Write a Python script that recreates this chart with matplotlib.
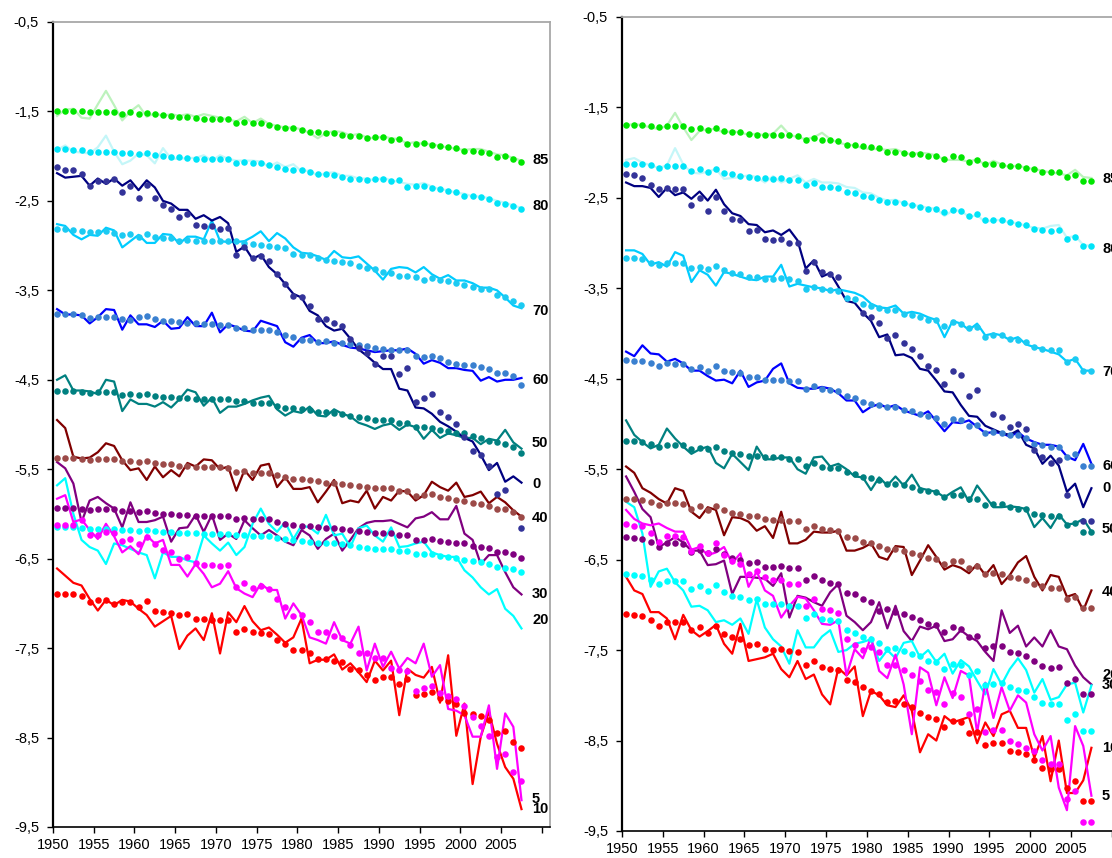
import numpy as np
import matplotlib
matplotlib.use("Agg")
import matplotlib.pyplot as plt
from matplotlib.ticker import FuncFormatter

nan = np.nan
years = list(range(1950, 2008))
ages = ["0", "5", "10", "20", "30", "40", "50", "60", "70", "80", "85"]

# ---------------- left panel ----------------
left_line_85 = [-1.55, -1.48, -1.47, -1.57, -1.58, -1.42, -1.27, -1.43, -1.60, -1.50,
                -1.43, -1.56, -1.52, -1.55, -1.53, -1.55, -1.53, -1.56, -1.53, -1.55,
                -1.57, -1.59, -1.61, -1.56, -1.63, -1.58, -1.64, -1.66, -1.68, -1.68,
                -1.70, -1.74, -1.80, -1.74, -1.72, -1.73, -1.77, -1.75, -1.79, -1.80,
                -1.78, -1.80, -1.81, -1.86, -1.84, -1.87, -1.86, -1.89, -1.90, -1.92,
                -1.93, -1.92, -1.92, -1.95, -1.98, -1.99, -2.02, -2.05]
left_dots_85 = [-1.49, -1.49, -1.49, -1.50, -1.51, -1.51, -1.51, -1.51, -1.53, -1.51,
                -1.53, -1.52, -1.53, -1.54, -1.55, -1.56, -1.56, -1.57, -1.58, -1.58,
                -1.58, -1.58, -1.63, -1.62, -1.63, -1.63, -1.65, -1.67, -1.69, -1.69,
                -1.71, -1.73, -1.73, -1.74, -1.74, -1.76, -1.78, -1.78, -1.80, -1.79,
                -1.79, -1.82, -1.81, -1.86, -1.86, -1.85, -1.88, -1.89, -1.90, -1.91,
                -1.94, -1.94, -1.95, -1.97, -2.01, -2.00, -2.03, -2.07]
left_line_80 = [-1.93, -1.88, -1.95, -1.96, -1.97, -1.90, -1.77, -1.95, -2.09, -2.05,
                -1.97, -1.99, -2.08, -1.91, -2.03, -2.03, -2.02, -2.02, -1.99, -2.05,
                -1.99, -2.03, -2.05, -2.05, -2.05, -2.06, -2.12, -2.07, -2.12, -2.09,
                -2.17, -2.16, -2.22, -2.19, -2.18, -2.22, -2.22, -2.25, -2.25, -2.27,
                -2.24, -2.27, -2.29, -2.31, -2.32, -2.30, -2.34, -2.37, -2.38, -2.41,
                -2.42, -2.45, -2.45, -2.47, -2.50, -2.52, -2.55, -2.58]
left_dots_80 = [-1.92, -1.92, -1.93, -1.93, -1.95, -1.95, -1.95, -1.95, -1.97, -1.96,
                -1.98, -1.96, -1.99, -2.00, -2.01, -2.01, -2.02, -2.03, -2.03, -2.03,
                -2.03, -2.03, -2.08, -2.07, -2.08, -2.08, -2.10, -2.12, -2.14, -2.15,
                -2.16, -2.18, -2.20, -2.20, -2.21, -2.23, -2.25, -2.25, -2.27, -2.26,
                -2.26, -2.28, -2.27, -2.34, -2.33, -2.33, -2.36, -2.37, -2.39, -2.40,
                -2.44, -2.45, -2.46, -2.48, -2.52, -2.53, -2.56, -2.59]
left_line_70 = [-2.76, -2.78, -2.88, -2.93, -2.88, -2.89, -2.80, -2.83, -3.02, -2.95,
                -2.88, -2.97, -2.97, -2.87, -2.88, -2.98, -2.90, -2.90, -2.93, -2.72,
                -2.95, -2.96, -2.96, -2.95, -2.90, -2.84, -2.95, -2.86, -2.92, -3.02,
                -3.08, -3.09, -3.12, -3.16, -3.06, -3.13, -3.14, -3.12, -3.20, -3.28,
                -3.38, -3.26, -3.24, -3.25, -3.30, -3.24, -3.32, -3.37, -3.33, -3.39,
                -3.39, -3.42, -3.47, -3.47, -3.50, -3.58, -3.67, -3.70]
left_dots_70 = [-2.81, -2.81, -2.83, -2.84, -2.85, -2.85, -2.84, -2.86, -2.88, -2.87,
                -2.90, -2.87, -2.90, -2.91, -2.91, -2.95, -2.94, -2.95, -2.95, -2.95,
                -2.95, -2.95, -2.95, -2.97, -2.98, -2.99, -3.00, -3.01, -3.03, -3.09,
                -3.10, -3.11, -3.14, -3.16, -3.17, -3.18, -3.20, -3.23, -3.25, -3.26,
                -3.29, -3.31, -3.34, -3.34, -3.35, -3.38, -3.36, -3.38, -3.40, -3.42,
                -3.44, -3.46, -3.48, -3.49, -3.55, -3.58, -3.62, -3.66]
left_line_60 = [-3.71, -3.77, -3.77, -3.78, -3.87, -3.80, -3.71, -3.72, -3.94, -3.78,
                -3.88, -3.88, -3.91, -3.84, -3.93, -3.92, -3.80, -3.90, -3.90, -3.75,
                -3.97, -3.88, -3.91, -3.95, -3.96, -3.84, -3.87, -3.90, -4.08, -4.13,
                -4.03, -4.00, -4.09, -4.09, -4.07, -4.11, -4.14, -4.15, -4.17, -4.19,
                -4.18, -4.17, -4.17, -4.15, -4.21, -4.32, -4.28, -4.31, -4.37, -4.37,
                -4.39, -4.40, -4.51, -4.47, -4.52, -4.50, -4.50, -4.48]
left_dots_60 = [-3.76, -3.77, -3.77, -3.78, -3.81, -3.80, -3.80, -3.80, -3.82, -3.83,
                -3.80, -3.79, -3.82, -3.84, -3.84, -3.85, -3.86, -3.87, -3.88, -3.88,
                -3.89, -3.89, -3.92, -3.92, -3.94, -3.94, -3.94, -3.97, -4.00, -4.02,
                -4.06, -4.06, -4.08, -4.07, -4.09, -4.09, -4.10, -4.11, -4.12, -4.14,
                -4.16, -4.17, -4.17, -4.17, -4.23, -4.24, -4.23, -4.26, -4.30, -4.32,
                -4.33, -4.33, -4.36, -4.38, -4.42, -4.42, -4.46, -4.56]
left_line_50 = [-4.50, -4.45, -4.62, -4.62, -4.63, -4.66, -4.50, -4.52, -4.85, -4.72,
                -4.77, -4.77, -4.80, -4.75, -4.81, -4.72, -4.61, -4.64, -4.79, -4.70,
                -4.87, -4.80, -4.80, -4.77, -4.73, -4.70, -4.68, -4.83, -4.90, -4.85,
                -4.87, -4.80, -4.90, -4.91, -4.83, -4.88, -4.91, -4.98, -5.01, -5.05,
                -5.01, -4.99, -5.06, -5.00, -5.03, -5.16, -5.06, -5.15, -5.10, -5.12,
                -5.15, -5.15, -5.22, -5.16, -5.18, -5.06, -5.20, -5.27]
left_dots_50 = [-4.62, -4.63, -4.63, -4.64, -4.65, -4.64, -4.64, -4.64, -4.67, -4.66,
                -4.67, -4.66, -4.68, -4.69, -4.69, -4.70, -4.70, -4.71, -4.71, -4.71,
                -4.71, -4.71, -4.74, -4.74, -4.76, -4.76, -4.76, -4.79, -4.81, -4.82,
                -4.83, -4.84, -4.86, -4.86, -4.87, -4.88, -4.91, -4.92, -4.93, -4.95,
                -4.95, -4.95, -4.98, -4.98, -5.03, -5.03, -5.04, -5.06, -5.07, -5.09,
                -5.10, -5.13, -5.15, -5.18, -5.20, -5.22, -5.25, -5.32]
left_line_40 = [-4.95, -5.04, -5.36, -5.38, -5.37, -5.31, -5.21, -5.24, -5.40, -5.51,
                -5.49, -5.62, -5.47, -5.59, -5.51, -5.58, -5.43, -5.47, -5.39, -5.40,
                -5.50, -5.47, -5.74, -5.51, -5.62, -5.46, -5.44, -5.70, -5.59, -5.72,
                -5.72, -5.70, -5.87, -5.75, -5.62, -5.88, -5.85, -5.87, -5.74, -5.94,
                -5.81, -5.85, -5.74, -5.75, -5.85, -5.79, -5.64, -5.70, -5.74, -5.65,
                -5.81, -5.79, -5.75, -5.88, -5.81, -5.87, -5.96, -6.03]
left_dots_40 = [-5.38, -5.38, -5.38, -5.39, -5.40, -5.39, -5.39, -5.39, -5.41, -5.41,
                -5.42, -5.41, -5.43, -5.44, -5.44, -5.46, -5.46, -5.47, -5.48, -5.48,
                -5.48, -5.49, -5.53, -5.52, -5.54, -5.54, -5.54, -5.57, -5.59, -5.61,
                -5.61, -5.62, -5.63, -5.65, -5.65, -5.66, -5.68, -5.69, -5.70, -5.71,
                -5.71, -5.71, -5.74, -5.74, -5.80, -5.79, -5.78, -5.81, -5.82, -5.84,
                -5.86, -5.88, -5.89, -5.91, -5.95, -5.95, -5.98, -6.03]
left_line_30 = [-5.42, -5.49, -5.66, -6.09, -5.85, -5.81, -5.88, -5.94, -6.15, -5.87,
                -6.09, -6.09, -6.07, -6.03, -6.31, -6.16, -6.15, -6.01, -6.20, -6.01,
                -6.29, -6.22, -6.28, -6.07, -6.16, -6.24, -6.18, -6.24, -6.31, -6.35,
                -6.18, -6.24, -6.39, -6.28, -6.22, -6.41, -6.29, -6.16, -6.10, -6.08,
                -6.08, -6.07, -6.11, -6.15, -6.05, -6.03, -5.98, -6.06, -6.06, -5.91,
                -6.22, -6.29, -6.56, -6.46, -6.46, -6.65, -6.82, -6.90]
left_dots_30 = [-5.93, -5.93, -5.93, -5.94, -5.96, -5.95, -5.95, -5.95, -5.97, -5.97,
                -5.98, -5.97, -5.99, -6.00, -6.00, -6.01, -6.01, -6.02, -6.02, -6.02,
                -6.02, -6.02, -6.06, -6.05, -6.06, -6.06, -6.06, -6.09, -6.11, -6.12,
                -6.13, -6.14, -6.15, -6.16, -6.16, -6.17, -6.18, -6.19, -6.20, -6.21,
                -6.21, -6.21, -6.23, -6.23, -6.29, -6.29, -6.28, -6.30, -6.31, -6.32,
                -6.33, -6.36, -6.37, -6.38, -6.42, -6.42, -6.45, -6.49]
left_line_20 = [-5.68, -5.60, -6.00, -6.29, -6.37, -6.41, -6.56, -6.33, -6.35, -6.39,
                -6.43, -6.46, -6.72, -6.43, -6.48, -6.48, -6.52, -6.54, -6.24, -6.33,
                -6.41, -6.32, -6.46, -6.37, -6.11, -5.94, -6.11, -6.20, -6.09, -6.28,
                -6.13, -6.15, -6.22, -6.01, -6.24, -6.22, -6.37, -6.16, -6.13, -6.24,
                -6.31, -6.15, -6.37, -6.36, -6.33, -6.31, -6.43, -6.46, -6.48, -6.48,
                -6.63, -6.71, -6.82, -6.90, -6.84, -7.06, -7.14, -7.28]
left_dots_20 = [-6.15, -6.15, -6.15, -6.16, -6.17, -6.17, -6.17, -6.17, -6.18, -6.18,
                -6.19, -6.18, -6.19, -6.20, -6.20, -6.21, -6.21, -6.21, -6.22, -6.22,
                -6.22, -6.22, -6.24, -6.24, -6.25, -6.25, -6.25, -6.27, -6.28, -6.29,
                -6.30, -6.31, -6.32, -6.33, -6.33, -6.34, -6.35, -6.37, -6.38, -6.39,
                -6.39, -6.39, -6.41, -6.41, -6.45, -6.45, -6.45, -6.47, -6.48, -6.49,
                -6.51, -6.53, -6.54, -6.56, -6.59, -6.60, -6.62, -6.65]
left_line_5 = [-5.83, -5.79, -6.09, -6.06, -6.18, -6.28, -6.11, -6.25, -6.43, -6.36,
               -6.45, -6.24, -6.33, -6.29, -6.57, -6.57, -6.70, -6.56, -6.67, -6.82,
               -6.78, -6.64, -6.83, -6.89, -6.93, -6.78, -6.85, -6.85, -7.17, -7.00,
               -7.13, -7.38, -7.41, -7.45, -7.21, -7.41, -7.45, -7.26, -7.75, -7.45,
               -7.71, -7.54, -7.73, -7.61, -7.67, -7.45, -7.82, -7.69, -8.18, -8.20,
               -8.25, -8.49, -8.49, -8.14, -8.85, -8.23, -8.38, -9.20]
left_dots_5 = [-6.12, -6.12, -6.12, -6.07, -6.24, -6.24, -6.20, -6.21, -6.30, -6.28,
               -6.34, -6.26, -6.34, -6.40, -6.43, -6.50, -6.48, -6.55, -6.57, -6.57,
               -6.58, -6.57, -6.82, -6.77, -6.83, -6.81, -6.84, -6.95, -7.04, -7.14,
               -7.13, -7.21, -7.32, -7.32, -7.37, -7.39, -7.47, -7.56, -7.56, -7.61,
               -7.61, -7.72, -7.75, -7.76, -7.98, -7.95, -7.92, -8.00, -8.04, -8.07,
               -8.15, -8.27, -8.37, -8.48, -8.72, -8.68, -8.89, -8.99]
left_line_10 = [-6.61, -6.69, -6.77, -6.80, -6.95, -7.08, -6.96, -7.02, -6.96, -6.98,
                -7.06, -7.13, -7.26, -7.20, -7.14, -7.51, -7.36, -7.28, -7.41, -7.11,
                -7.56, -7.10, -7.21, -7.03, -7.20, -7.30, -7.27, -7.35, -7.44, -7.38,
                -7.17, -7.67, -7.63, -7.63, -7.57, -7.74, -7.67, -7.77, -7.88, -7.64,
                -7.75, -7.64, -8.25, -7.73, -7.80, -7.83, -7.71, -8.11, -7.58, -8.48,
                -8.12, -9.02, -8.49, -8.21, -8.57, -8.83, -8.96, -9.30]
left_dots_10 = [-6.90, -6.90, -6.90, -6.92, -6.98, -6.96, -6.96, -7.01, -6.98, -6.98,
                -7.04, -6.97, -7.08, -7.10, -7.11, -7.13, -7.12, -7.17, -7.17, -7.19,
                -7.19, -7.19, -7.32, -7.29, -7.32, -7.33, -7.34, -7.41, -7.45, -7.52,
                -7.52, -7.56, -7.62, -7.62, -7.64, -7.66, -7.73, -7.75, -7.80, -7.86,
                -7.82, -7.82, -7.90, -7.85, -8.02, -8.01, -7.99, -8.06, -8.09, -8.12,
                -8.22, -8.24, -8.26, -8.30, -8.45, -8.43, -8.55, -8.62]
left_line_0 = [-2.19, -2.24, -2.23, -2.22, -2.33, -2.25, -2.31, -2.25, -2.33, -2.27,
               -2.38, -2.27, -2.35, -2.50, -2.53, -2.60, -2.60, -2.70, -2.66, -2.72,
               -2.68, -2.75, -3.07, -3.01, -3.15, -3.10, -3.24, -3.32, -3.43, -3.54,
               -3.58, -3.73, -3.78, -3.90, -3.95, -3.93, -4.04, -4.16, -4.23, -4.31,
               -4.38, -4.38, -4.60, -4.62, -4.81, -4.82, -4.88, -4.97, -5.02, -5.08,
               -5.15, -5.19, -5.34, -5.51, -5.43, -5.64, -5.58, -5.65]
left_dots_0 = [-2.12, -2.15, -2.15, -2.20, -2.33, -2.28, -2.28, -2.26, -2.40, -2.33,
               -2.47, -2.32, -2.47, -2.55, -2.59, -2.68, -2.65, -2.77, -2.78, -2.78,
               -2.81, -2.80, -3.11, -3.01, -3.14, -3.12, -3.17, -3.32, -3.43, -3.56,
               -3.57, -3.67, -3.82, -3.82, -3.86, -3.90, -4.04, -4.14, -4.20, -4.32,
               -4.23, -4.23, -4.44, -4.37, -4.75, -4.70, -4.66, -4.86, -4.92, -4.99,
               -5.14, -5.30, -5.34, -5.46, -5.78, -5.73, nan, -6.16]

# ---------------- right panel ----------------
right_line_85 = [-1.70, -1.68, -1.70, -1.72, -1.74, -1.70, -1.56, -1.72, -1.86, -1.76,
                 -1.74, -1.74, -1.78, -1.76, -1.78, -1.80, -1.79, -1.81, -1.79, -1.70,
                 -1.80, -1.83, -1.85, -1.83, -1.78, -1.85, -1.89, -1.91, -1.92, -1.95,
                 -1.96, -1.96, -1.97, -1.96, -2.00, -2.02, -2.00, -2.01, -2.03, -2.08,
                 -2.08, -2.08, -2.10, -2.07, -2.14, -2.09, -2.13, -2.16, -2.14, -2.17,
                 -2.18, -2.20, -2.22, -2.23, -2.25, -2.19, -2.27, -2.28]
right_dots_85 = [-1.69, -1.69, -1.69, -1.70, -1.72, -1.71, -1.71, -1.71, -1.74, -1.73,
                 -1.75, -1.73, -1.76, -1.77, -1.77, -1.79, -1.80, -1.80, -1.80, -1.81,
                 -1.81, -1.82, -1.86, -1.84, -1.86, -1.86, -1.87, -1.91, -1.91, -1.93,
                 -1.94, -1.95, -1.99, -1.99, -2.00, -2.01, -2.02, -2.04, -2.04, -2.07,
                 -2.04, -2.05, -2.10, -2.08, -2.12, -2.12, -2.14, -2.15, -2.15, -2.17,
                 -2.18, -2.21, -2.21, -2.21, -2.27, -2.25, -2.31, -2.31]
right_line_80 = [-2.08, -2.06, -2.11, -2.14, -2.17, -2.14, -1.95, -2.13, -2.22, -2.23,
                 -2.21, -2.18, -2.29, -2.28, -2.27, -2.25, -2.27, -2.33, -2.26, -2.33,
                 -2.29, -2.25, -2.33, -2.29, -2.33, -2.33, -2.34, -2.38, -2.39, -2.44,
                 -2.45, -2.50, -2.53, -2.52, -2.56, -2.58, -2.59, -2.61, -2.62, -2.70,
                 -2.64, -2.64, -2.71, -2.69, -2.77, -2.74, -2.75, -2.77, -2.78, -2.81,
                 -2.83, -2.84, -2.81, -2.80, -2.94, -2.92, -3.02, -3.03]
right_dots_80 = [-2.12, -2.12, -2.13, -2.14, -2.17, -2.15, -2.15, -2.15, -2.20, -2.18,
                 -2.21, -2.18, -2.22, -2.24, -2.26, -2.27, -2.28, -2.28, -2.29, -2.28,
                 -2.30, -2.30, -2.36, -2.34, -2.38, -2.38, -2.39, -2.43, -2.45, -2.48,
                 -2.49, -2.52, -2.54, -2.54, -2.56, -2.58, -2.60, -2.62, -2.62, -2.66,
                 -2.63, -2.64, -2.70, -2.68, -2.75, -2.75, -2.75, -2.77, -2.79, -2.80,
                 -2.84, -2.86, -2.87, -2.86, -2.96, -2.93, -3.03, -3.03]
right_line_70 = [-3.08, -3.08, -3.12, -3.24, -3.21, -3.26, -3.10, -3.14, -3.43, -3.30,
                 -3.35, -3.47, -3.32, -3.34, -3.37, -3.40, -3.41, -3.37, -3.37, -3.24,
                 -3.48, -3.45, -3.47, -3.49, -3.50, -3.53, -3.51, -3.53, -3.55, -3.59,
                 -3.67, -3.71, -3.72, -3.69, -3.78, -3.76, -3.78, -3.82, -3.85, -4.04,
                 -3.86, -3.89, -3.96, -3.89, -4.02, -4.00, -4.02, -4.07, -4.04, -4.12,
                 -4.15, -4.17, -4.20, -4.23, -4.31, -4.28, -4.41, -4.41]
right_dots_70 = [-3.16, -3.16, -3.18, -3.22, -3.24, -3.22, -3.22, -3.22, -3.28, -3.26,
                 -3.29, -3.25, -3.30, -3.33, -3.34, -3.37, -3.37, -3.40, -3.40, -3.39,
                 -3.40, -3.42, -3.51, -3.48, -3.51, -3.52, -3.53, -3.61, -3.62, -3.67,
                 -3.69, -3.72, -3.74, -3.74, -3.78, -3.80, -3.82, -3.85, -3.85, -3.92,
                 -3.87, -3.89, -3.94, -3.93, -4.04, -4.02, -4.02, -4.06, -4.07, -4.09,
                 -4.15, -4.17, -4.18, -4.18, -4.31, -4.28, -4.41, -4.41]
right_line_60 = [-4.20, -4.25, -4.13, -4.22, -4.23, -4.31, -4.28, -4.33, -4.41, -4.41,
                 -4.47, -4.52, -4.51, -4.55, -4.41, -4.59, -4.54, -4.52, -4.39, -4.33,
                 -4.55, -4.60, -4.61, -4.61, -4.59, -4.61, -4.66, -4.74, -4.74, -4.87,
                 -4.81, -4.78, -4.82, -4.79, -4.85, -4.88, -4.91, -4.86, -4.97, -5.08,
                 -4.98, -4.99, -4.96, -5.03, -5.10, -5.09, -5.10, -5.14, -5.09, -5.16,
                 -5.20, -5.23, -5.23, -5.25, -5.36, -5.40, -5.22, -5.44]
right_dots_60 = [-4.29, -4.30, -4.30, -4.33, -4.36, -4.33, -4.34, -4.34, -4.39, -4.37,
                 -4.41, -4.36, -4.41, -4.43, -4.44, -4.48, -4.48, -4.51, -4.51, -4.51,
                 -4.52, -4.52, -4.61, -4.58, -4.61, -4.62, -4.63, -4.69, -4.71, -4.76,
                 -4.78, -4.79, -4.81, -4.81, -4.84, -4.86, -4.89, -4.91, -4.93, -5.00,
                 -4.95, -4.96, -5.02, -5.01, -5.10, -5.09, -5.10, -5.12, -5.12, -5.16,
                 -5.22, -5.23, -5.25, -5.25, -5.36, -5.33, -5.46, -5.46]
right_line_50 = [-4.96, -5.12, -5.20, -5.27, -5.23, -5.05, -5.16, -5.25, -5.33, -5.28,
                 -5.25, -5.43, -5.49, -5.33, -5.42, -5.51, -5.25, -5.39, -5.39, -5.37,
                 -5.37, -5.50, -5.55, -5.37, -5.36, -5.47, -5.44, -5.50, -5.58, -5.59,
                 -5.73, -5.59, -5.68, -5.58, -5.68, -5.56, -5.71, -5.73, -5.75, -5.81,
                 -5.75, -5.70, -5.86, -5.68, -5.80, -5.92, -5.92, -5.91, -5.92, -5.94,
                 -6.14, -6.04, -6.15, -6.00, -6.11, -6.10, -6.05, -6.19]
right_dots_50 = [-5.19, -5.19, -5.20, -5.22, -5.25, -5.23, -5.23, -5.23, -5.28, -5.26,
                 -5.28, -5.25, -5.30, -5.32, -5.33, -5.35, -5.35, -5.37, -5.37, -5.37,
                 -5.39, -5.39, -5.46, -5.43, -5.47, -5.49, -5.49, -5.53, -5.55, -5.59,
                 -5.60, -5.62, -5.66, -5.66, -5.67, -5.70, -5.73, -5.74, -5.75, -5.81,
                 -5.78, -5.78, -5.83, -5.83, -5.90, -5.88, -5.89, -5.92, -5.94, -5.94,
                 -5.99, -6.01, -6.02, -6.02, -6.12, -6.10, -6.19, -6.19]
right_line_40 = [-5.47, -5.54, -5.71, -5.76, -5.83, -5.88, -5.71, -5.74, -5.97, -6.04,
                 -5.92, -5.95, -6.23, -6.03, -6.04, -6.08, -6.18, -6.13, -6.26, -5.97,
                 -6.32, -6.32, -6.28, -6.19, -6.20, -6.20, -6.18, -6.40, -6.40, -6.37,
                 -6.32, -6.47, -6.50, -6.35, -6.36, -6.67, -6.51, -6.34, -6.47, -6.61,
                 -6.56, -6.59, -6.65, -6.55, -6.67, -6.56, -6.77, -6.67, -6.53, -6.46,
                 -6.69, -6.84, -6.67, -6.69, -6.91, -6.88, -7.06, -6.84]
right_dots_40 = [-5.83, -5.83, -5.84, -5.86, -5.90, -5.87, -5.87, -5.88, -5.94, -5.91,
                 -5.95, -5.91, -5.95, -5.98, -5.99, -6.02, -6.02, -6.05, -6.06, -6.06,
                 -6.07, -6.07, -6.16, -6.13, -6.16, -6.17, -6.18, -6.25, -6.26, -6.31,
                 -6.32, -6.35, -6.38, -6.38, -6.40, -6.43, -6.45, -6.48, -6.49, -6.55,
                 -6.52, -6.52, -6.59, -6.57, -6.66, -6.65, -6.66, -6.69, -6.70, -6.72,
                 -6.77, -6.79, -6.81, -6.81, -6.93, -6.91, -7.03, -7.03]
right_line_30 = [-5.58, -5.75, -5.94, -6.03, -6.36, -6.31, -6.25, -6.31, -6.40, -6.40,
                 -6.56, -6.55, -6.51, -6.88, -6.69, -6.69, -6.70, -6.71, -6.79, -6.65,
                 -7.14, -6.90, -6.92, -6.97, -7.01, -6.86, -6.77, -7.12, -7.19, -7.28,
                 -7.19, -6.97, -7.26, -7.01, -7.29, -7.40, -7.24, -7.27, -7.23, -7.40,
                 -7.38, -7.28, -7.35, -7.40, -7.52, -7.62, -7.06, -7.31, -7.23, -7.46,
                 -7.36, -7.46, -7.28, -7.46, -7.49, -7.67, -7.80, -7.88]
right_dots_30 = [-6.25, -6.26, -6.27, -6.30, -6.36, -6.32, -6.32, -6.33, -6.42, -6.39,
                 -6.43, -6.38, -6.44, -6.48, -6.50, -6.54, -6.53, -6.58, -6.58, -6.57,
                 -6.59, -6.59, -6.73, -6.68, -6.73, -6.76, -6.77, -6.87, -6.88, -6.94,
                 -6.97, -7.07, -7.05, -7.08, -7.10, -7.13, -7.17, -7.21, -7.22, -7.30,
                 -7.25, -7.27, -7.36, -7.34, -7.48, -7.46, -7.46, -7.52, -7.53, -7.56,
                 -7.62, -7.68, -7.70, -7.69, -7.86, -7.82, -7.99, -7.99]
right_line_20 = [-5.86, -5.92, -6.21, -6.80, -6.63, -6.60, -6.75, -6.84, -7.02, -7.01,
                 -7.06, -7.19, -7.17, -7.22, -7.15, -7.32, -6.94, -7.25, -7.38, -7.46,
                 -7.65, -7.28, -7.47, -7.47, -7.35, -7.28, -7.52, -7.50, -7.43, -7.41,
                 -7.38, -7.62, -7.50, -7.59, -7.42, -7.40, -7.58, -7.50, -7.63, -7.54,
                 -7.76, -7.61, -7.68, -7.84, -7.99, -7.71, -7.88, -7.71, -7.59, -7.72,
                 -7.97, -7.82, -8.05, -8.02, -7.88, -7.86, -8.19, -7.89]
right_dots_20 = [-6.66, -6.67, -6.68, -6.73, -6.77, -6.74, -6.74, -6.74, -6.82, -6.79,
                 -6.85, -6.78, -6.86, -6.90, -6.91, -6.95, -6.94, -6.99, -6.99, -6.99,
                 -7.01, -7.01, -7.14, -7.10, -7.16, -7.17, -7.18, -7.28, -7.31, -7.35,
                 -7.38, -7.42, -7.49, -7.48, -7.51, -7.54, -7.57, -7.62, -7.63, -7.71,
                 -7.65, -7.67, -7.77, -7.73, -7.89, -7.87, -7.86, -7.91, -7.94, -7.95,
                 -8.02, -8.08, -8.10, -8.10, -8.27, -8.21, -8.39, -8.39]
right_line_5 = [-5.95, -6.05, -6.10, -6.12, -6.10, -6.15, -6.19, -6.19, -6.39, -6.36,
                -6.45, -6.42, -6.36, -6.54, -6.43, -6.80, -6.63, -6.84, -6.90, -7.14,
                -7.01, -6.91, -6.93, -7.06, -7.21, -7.22, -7.17, -7.78, -7.49, -7.59,
                -7.36, -7.73, -7.81, -7.55, -7.88, -8.43, -7.69, -7.75, -8.11, -7.80,
                -8.03, -7.73, -7.78, -8.41, -7.86, -8.25, -7.91, -8.17, -8.00, -8.08,
                -8.43, -8.61, -8.45, -9.02, -9.27, -8.34, -8.56, -9.11]
right_dots_5 = [-6.11, -6.13, -6.13, -6.21, -6.30, -6.24, -6.24, -6.25, -6.40, -6.35,
                -6.43, -6.32, -6.45, -6.52, -6.55, -6.66, -6.63, -6.69, -6.72, -6.73,
                -6.77, -6.77, -7.01, -6.93, -7.04, -7.06, -7.09, -7.38, -7.44, -7.50,
                -7.47, -7.52, -7.66, -7.67, -7.72, -7.77, -7.84, -7.94, -7.96, -8.10,
                -7.97, -8.02, -8.21, -8.15, -8.40, -8.38, -8.38, -8.50, -8.54, -8.58,
                -8.62, -8.72, -8.76, -8.76, -9.15, -9.06, -9.40, -9.40]
right_line_10 = [-6.69, -6.84, -6.88, -7.08, -7.08, -7.15, -7.38, -7.11, -7.28, -7.35,
                 -7.29, -7.22, -7.43, -7.54, -7.21, -7.62, -7.60, -7.58, -7.54, -7.71,
                 -7.80, -7.62, -7.82, -7.77, -7.99, -8.10, -7.70, -7.78, -7.68, -8.23,
                 -7.95, -8.00, -8.11, -8.13, -8.00, -8.17, -8.63, -8.43, -8.50, -8.23,
                 -8.30, -8.27, -8.24, -8.53, -8.30, -8.45, -8.21, -8.17, -8.36, -8.36,
                 -8.69, -8.45, -8.95, -8.50, -9.08, -9.08, -8.94, -8.58]
right_dots_10 = [-7.10, -7.11, -7.12, -7.17, -7.23, -7.19, -7.19, -7.19, -7.28, -7.25,
                 -7.31, -7.23, -7.32, -7.36, -7.38, -7.44, -7.43, -7.49, -7.50, -7.49,
                 -7.51, -7.52, -7.67, -7.62, -7.69, -7.71, -7.72, -7.83, -7.85, -7.91,
                 -7.95, -7.99, -8.07, -8.06, -8.10, -8.13, -8.19, -8.24, -8.26, -8.35,
                 -8.28, -8.30, -8.42, -8.41, -8.55, -8.53, -8.53, -8.61, -8.63, -8.65,
                 -8.72, -8.80, -8.81, -8.81, -9.02, -8.95, -9.17, -9.17]
right_line_0 = [-2.33, -2.37, -2.37, -2.39, -2.49, -2.39, -2.47, -2.44, -2.51, -2.43,
                -2.53, -2.41, -2.57, -2.67, -2.70, -2.79, -2.80, -2.88, -2.86, -2.91,
                -2.85, -2.97, -3.28, -3.19, -3.37, -3.33, -3.48, -3.64, -3.66, -3.77,
                -3.86, -4.04, -4.01, -4.24, -4.23, -4.27, -4.39, -4.41, -4.52, -4.64,
                -4.65, -4.79, -4.91, -4.92, -5.02, -5.06, -5.10, -5.12, -5.07, -5.23,
                -5.27, -5.44, -5.35, -5.46, -5.75, -5.66, -5.92, -5.71]
right_dots_0 = [-2.24, -2.25, -2.28, -2.36, -2.40, -2.39, -2.40, -2.40, -2.58, -2.50,
                -2.64, -2.49, -2.65, -2.73, -2.75, -2.87, -2.85, -2.96, -2.97, -2.95,
                -3.00, -3.00, -3.31, -3.21, -3.32, -3.34, -3.38, nan, nan, -3.77,
                -3.82, -3.88, -4.05, -4.02, -4.10, -4.17, -4.25, -4.36, -4.40, -4.56,
                -4.41, -4.46, -4.69, -4.62, nan, -4.89, -4.92, -5.03, -5.00, -5.06,
                -5.29, -5.36, -5.43, -5.40, -5.79, nan, -6.07, -6.07]

# end-of-series labels (age, vertical position)
left_label_ages = ["85", "80", "70", "60", "50", "0", "40", "30", "20", "5", "10"]
left_label_pos = [-2.04, -2.56, -3.73, -4.50, -5.21, -5.67, -6.05, -6.90, -7.19, -9.19, -9.30]
right_label_ages = ["85", "80", "70", "60", "0", "50", "40", "20", "30", "10", "5"]
right_label_pos = [-2.29, -3.06, -4.43, -5.46, -5.71, -6.16, -6.86, -7.78, -7.89, -8.58, -9.11]

line_colors = {"0": "#000080", "5": "#ff00ff", "10": "#ff0000", "20": "#00ffff",
               "30": "#800080", "40": "#800000", "50": "#008080", "60": "#0000ff",
               "70": "#00ccff", "80": "#c4f6f8", "85": "#bdf2bd"}
dot_colors = {"0": "#333399", "5": "#ff00ff", "10": "#ff0000", "20": "#00ffff",
              "30": "#800080", "40": "#9c4a48", "50": "#008080", "60": "#3a80d0",
              "70": "#1ccaf2", "80": "#00e4f8", "85": "#00e600"}

left_lines = {"0": left_line_0, "5": left_line_5, "10": left_line_10, "20": left_line_20,
              "30": left_line_30, "40": left_line_40, "50": left_line_50, "60": left_line_60,
              "70": left_line_70, "80": left_line_80, "85": left_line_85}
left_dots = {"0": left_dots_0, "5": left_dots_5, "10": left_dots_10, "20": left_dots_20,
             "30": left_dots_30, "40": left_dots_40, "50": left_dots_50, "60": left_dots_60,
             "70": left_dots_70, "80": left_dots_80, "85": left_dots_85}
right_lines = {"0": right_line_0, "5": right_line_5, "10": right_line_10, "20": right_line_20,
               "30": right_line_30, "40": right_line_40, "50": right_line_50, "60": right_line_60,
               "70": right_line_70, "80": right_line_80, "85": right_line_85}
right_dots = {"0": right_dots_0, "5": right_dots_5, "10": right_dots_10, "20": right_dots_20,
              "30": right_dots_30, "40": right_dots_40, "50": right_dots_50, "60": right_dots_60,
              "70": right_dots_70, "80": right_dots_80, "85": right_dots_85}

plt.rcParams['font.family'] = ['Liberation Sans', 'DejaVu Sans']


def draw_panel(ax, lines, dots, label_ages, label_pos):
    order = ["85", "80", "70", "60", "50", "40", "30", "20", "10", "5", "0"]
    for age in order:
        ax.plot(years, lines[age], color=line_colors[age], lw=1.6, zorder=2)
    for age in order:
        ax.plot(years, dots[age], ls="none", marker="o", ms=4.7, mec="none",
                color=dot_colors[age], zorder=3)
    for age, y in zip(label_ages, label_pos):
        ax.text(2008.3, y, age, fontsize=10.5, fontweight="bold", ha="left",
                va="center", color="black", clip_on=False)

    # category-style axis: ticks sit between years
    ax.set_xlim(1949.5, 2010.5)
    ax.set_ylim(-9.5, -0.5)
    ax.set_xticks([1949.5 + 5 * k for k in range(13)])
    ax.set_xticklabels([str(1950 + 5 * k) for k in range(12)] + [""])
    ax.set_yticks(np.arange(-9.5, 0, 1.0))
    ax.yaxis.set_major_formatter(FuncFormatter(lambda v, p: f"{v:.1f}".replace(".", ",")))
    ax.tick_params(axis="both", labelsize=10.5, direction="out", length=4, width=1,
                   color="black")
    ax.tick_params(axis="y", pad=6)
    ax.tick_params(axis="x", pad=4)
    ax.spines["left"].set_linewidth(1.6)
    ax.spines["bottom"].set_linewidth(1.2)
    for side in ["top", "right"]:
        ax.spines[side].set_color("#a8a8a8")
        ax.spines[side].set_linewidth(1.3)


fig = plt.figure(figsize=(11.12, 8.58), dpi=100)
ax1 = fig.add_axes([53 / 1112, 31 / 858, 497 / 1112, 805 / 858])
ax2 = fig.add_axes([622 / 1112, 27 / 858, 498 / 1112, 814 / 858])
draw_panel(ax1, left_lines, left_dots, left_label_ages, left_label_pos)
draw_panel(ax2, right_lines, right_dots, right_label_ages, right_label_pos)

fig.savefig("out.png", dpi=100)
